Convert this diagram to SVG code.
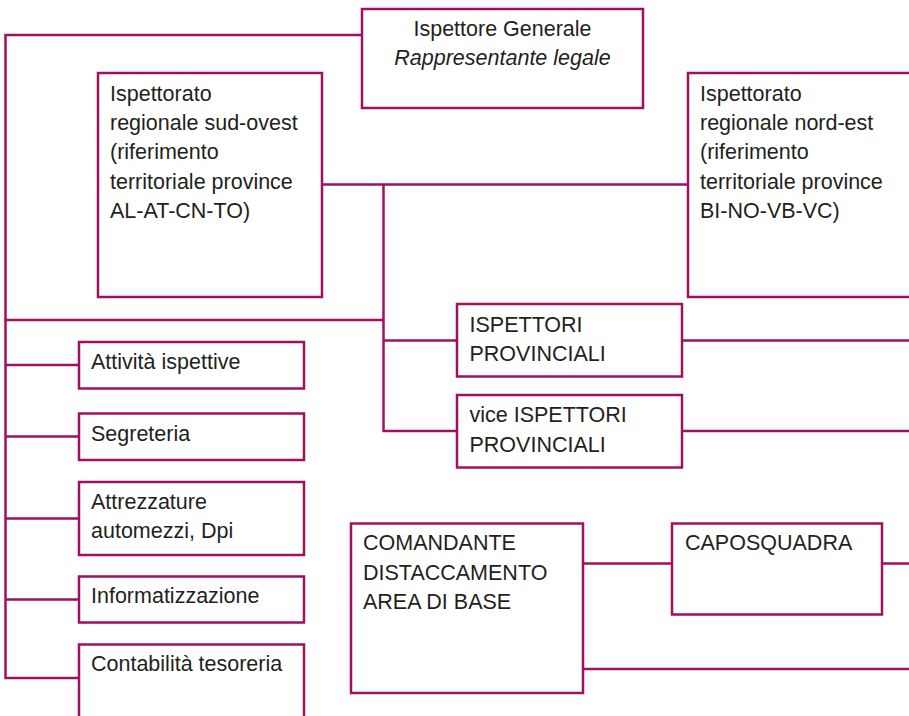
<svg xmlns="http://www.w3.org/2000/svg" width="909" height="716" viewBox="0 0 909 716">
<style>
.box{fill:#fff;stroke:#a0105f;stroke-width:2.5}
.ln{fill:none;stroke:#a0105f;stroke-width:2.5}
text{font-family:"Liberation Sans",Arial,sans-serif;font-size:21.5px;fill:#231f20}
.it{font-style:italic}
</style>
<rect width="909" height="716" fill="#fff"/>
<g id="connectors">
<path class="ln" d="M362,35 H5.5 V678 H79"/>
<path class="ln" d="M5.5,365 H79 M5.5,436.5 H79 M5.5,518.5 H79 M5.5,599.5 H79"/>
<path class="ln" d="M5.5,320 H383.5"/>
<path class="ln" d="M322,184.5 H688 M383.5,184.5 V431 H457 M383.5,340.5 H457"/>
<path class="ln" d="M682,340.5 H909 M682,431 H909"/>
<path class="ln" d="M583,563.5 H672 M882,563.5 H909 M583,669 H909"/>
</g>
<g id="ispettore-generale">
<rect class="box" x="362" y="9" width="281" height="99"/>
<text x="502.5" y="36" text-anchor="middle">Ispettore Generale</text>
<text class="it" x="502.5" y="65" text-anchor="middle">Rappresentante legale</text>
</g>
<g id="sud-ovest">
<rect class="box" x="98" y="73" width="224" height="224"/>
<text x="110" y="100.5">Ispettorato</text>
<text x="110" y="130">regionale sud-ovest</text>
<text x="110" y="159.3">(riferimento</text>
<text x="110" y="188.6">territoriale province</text>
<text x="110" y="218">AL-AT-CN-TO)</text>
</g>
<g id="nord-est">
<rect class="box" x="688" y="73" width="230" height="224"/>
<text x="700" y="100.5">Ispettorato</text>
<text x="700" y="130">regionale nord-est</text>
<text x="700" y="159.3">(riferimento</text>
<text x="700" y="188.6">territoriale province</text>
<text x="700" y="218">BI-NO-VB-VC)</text>
</g>
<g id="ispettori-provinciali">
<rect class="box" x="457" y="304" width="225" height="72.5"/>
<text x="469.5" y="331.5">ISPETTORI</text>
<text x="469.5" y="361">PROVINCIALI</text>
</g>
<g id="vice-ispettori">
<rect class="box" x="457" y="395" width="225" height="72.5"/>
<text x="469.5" y="422">vice ISPETTORI</text>
<text x="469.5" y="451.5">PROVINCIALI</text>
</g>
<g id="attivita">
<rect class="box" x="79" y="342" width="225" height="46.5"/>
<text x="91" y="369">Attività ispettive</text>
</g>
<g id="segreteria">
<rect class="box" x="79" y="413.5" width="225" height="46.5"/>
<text x="91" y="441">Segreteria</text>
</g>
<g id="attrezzature">
<rect class="box" x="79" y="482" width="225" height="73"/>
<text x="91" y="509">Attrezzature</text>
<text x="91" y="538">automezzi, Dpi</text>
</g>
<g id="informatizzazione">
<rect class="box" x="79" y="576.5" width="225" height="46"/>
<text x="91" y="603">Informatizzazione</text>
</g>
<g id="contabilita">
<rect class="box" x="79" y="644.5" width="225" height="80"/>
<text x="91" y="671">Contabilità tesoreria</text>
</g>
<g id="comandante">
<rect class="box" x="351" y="523.5" width="232" height="169.5"/>
<text x="363" y="550">COMANDANTE</text>
<text x="363" y="579.5">DISTACCAMENTO</text>
<text x="363" y="609">AREA DI BASE</text>
</g>
<g id="caposquadra">
<rect class="box" x="672" y="523.5" width="210" height="91"/>
<text x="685" y="550">CAPOSQUADRA</text>
</g>
</svg>
